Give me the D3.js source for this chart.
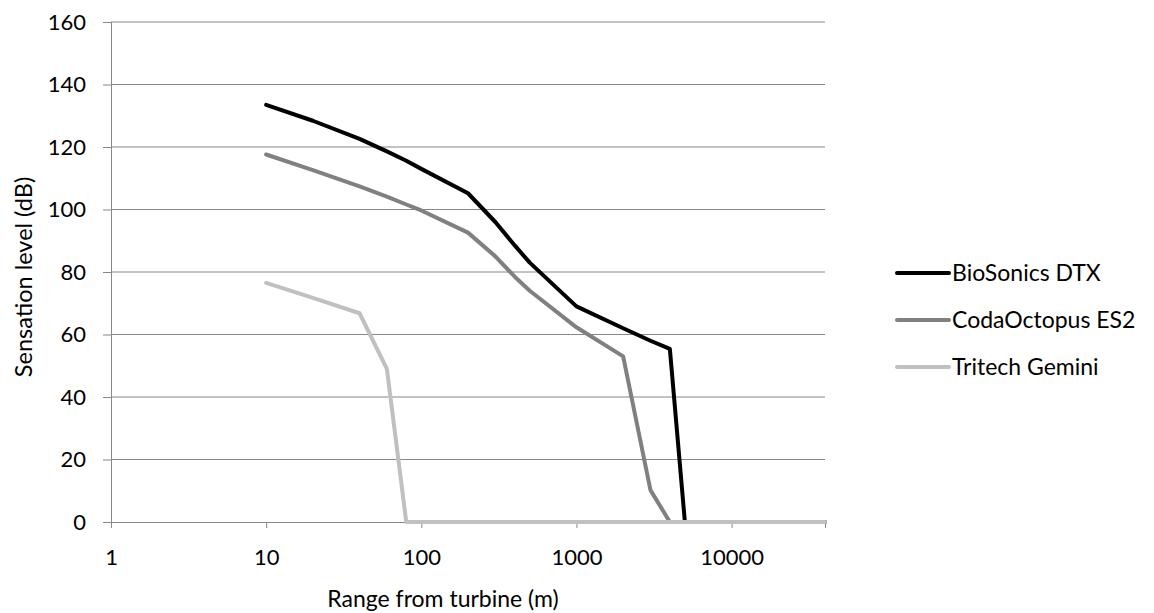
<!DOCTYPE html>
<html lang="en">
<head>
  <meta charset="UTF-8">
  <title>Sensation level vs range</title>
  <script src="https://d3js.org/d3.v7.min.js"></script>
  <style>
    body { margin: 0; background: #fff; font-family: Lato, "Open Sans", sans-serif; }
  </style>
</head>
<body>
  <div id="chart"></div>
  <script>
    // data
    const seriesNames = ["BioSonics DTX", "CodaOctopus ES2", "Tritech Gemini"];
    const seriesColors = ["#000000", "#808080", "#c0c0c0"];

    const bioRange = [10, 20, 40, 60, 80, 100, 200, 300, 400, 500, 1000, 2000, 3000, 4000, 5000, 40000];
    const bioLevel = [133.5, 128.4, 122.6, 118.6, 115.6, 113, 105.2, 96, 88.5, 83, 69, 62, 58, 55.4, 0, 0];

    const codaRange = [10, 20, 40, 60, 80, 100, 200, 300, 400, 500, 1000, 2000, 3000, 4000, 40000];
    const codaLevel = [117.6, 112.6, 107.4, 104.1, 101.6, 99.7, 92.6, 85, 78.5, 74, 62.3, 53, 10.2, 0, 0];

    const triRange = [10, 20, 40, 60, 80, 40000];
    const triLevel = [76.5, 71.7, 66.8, 49, 0, 0];

    const xTicks = [1, 10, 100, 1000, 10000];
    const yTicks = [0, 20, 40, 60, 80, 100, 120, 140, 160];

    const series = [
      {name: seriesNames[0], color: seriesColors[0], pts: bioRange.map((r, i) => [r, bioLevel[i]])},
      {name: seriesNames[1], color: seriesColors[1], pts: codaRange.map((r, i) => [r, codaLevel[i]])},
      {name: seriesNames[2], color: seriesColors[2], pts: triRange.map((r, i) => [r, triLevel[i]])}
    ];

    const W = 1154, H = 613;
    const margin = {top: 22, right: 329, bottom: 91, left: 111};
    const width = W - margin.left - margin.right,
          height = H - margin.top - margin.bottom;

    const svg = d3.select("#chart").append("svg")
      .attr("width", W).attr("height", H);
    const g = svg.append("g")
      .attr("transform", `translate(${margin.left},${margin.top})`);

    const x = d3.scaleLog().domain([1, 40000]).range([0, width]);
    const y = d3.scaleLinear().domain([0, 160]).range([height, 0]);

    // horizontal gridlines
    g.selectAll(".grid")
      .data(yTicks.filter(d => d > 0))
      .enter().append("line")
      .attr("x1", 0).attr("x2", width)
      .attr("y1", d => y(d)).attr("y2", d => y(d))
      .attr("stroke", "#878787").attr("stroke-width", 1);

    // y axis
    const yAxis = g.append("g")
      .call(d3.axisLeft(y).tickValues(yTicks).tickSize(8).tickFormat(d3.format("d")));
    yAxis.select(".domain").attr("stroke", "#878787");
    yAxis.selectAll(".tick line").attr("stroke", "#878787");
    yAxis.selectAll("text")
      .attr("x", -25)
      .style("font-size", "22px").style("font-family", "Lato, sans-serif").attr("fill", "#000");

    // x axis
    const xAxis = g.append("g")
      .attr("transform", `translate(0,${height})`)
      .call(d3.axisBottom(x).tickValues(xTicks).tickSize(6).tickFormat(d3.format("d")));
    xAxis.select(".domain").attr("stroke", "#878787");
    xAxis.selectAll(".tick line").attr("stroke", "#878787");
    xAxis.selectAll("text")
      .attr("y", 35).attr("dy", "0.35em")
      .style("font-size", "22px").style("font-family", "Lato, sans-serif").attr("fill", "#000");

    const line = d3.line().x(d => x(d[0])).y(d => y(d[1]));

    g.selectAll(".series")
      .data(series)
      .enter().append("path")
      .attr("d", d => line(d.pts))
      .attr("fill", "none")
      .attr("stroke", d => d.color)
      .attr("stroke-width", 4)
      .attr("stroke-linejoin", "round")
      .attr("stroke-linecap", "round");

    // axis titles
    svg.append("text")
      .attr("x", 443).attr("y", 607)
      .attr("text-anchor", "middle")
      .style("font-size", "23px")
      .text("Range from turbine (m)");

    svg.append("text")
      .attr("transform", `translate(32,277) rotate(-90)`)
      .attr("text-anchor", "middle")
      .style("font-size", "23.5px")
      .text("Sensation level (dB)");

    // legend
    const legend = svg.append("g").attr("transform", "translate(897,273)");
    const item = legend.selectAll(".item")
      .data(series)
      .enter().append("g")
      .attr("transform", (d, i) => `translate(0,${i * 47})`);
    item.append("line")
      .attr("x1", 0).attr("x2", 52)
      .attr("stroke", d => d.color)
      .attr("stroke-width", 4)
      .attr("stroke-linecap", "round");
    item.append("text")
      .attr("x", 55).attr("dy", "0.35em")
      .style("font-size", "23px")
      .text(d => d.name);
  </script>
</body>
</html>
